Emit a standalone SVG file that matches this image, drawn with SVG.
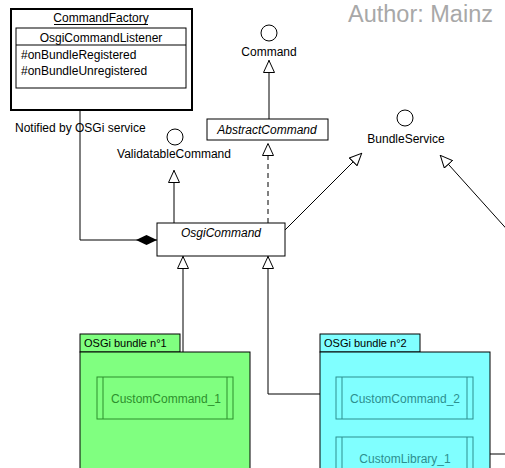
<svg xmlns="http://www.w3.org/2000/svg" width="505" height="468" viewBox="0 0 505 468">
<style>
text{font-family:"Liberation Sans",Arial,sans-serif;font-size:12px;fill:#000}
.c{text-anchor:middle}
.it{font-style:italic}
.box{fill:#fff;stroke:#000;stroke-width:1}
.ln{fill:none;stroke:#000;stroke-width:1}
.g1{fill:#80ff80;stroke:#000;stroke-width:1}
.g2{fill:#80ffff;stroke:#000;stroke-width:1}
.cg{fill:none;stroke:#2d8f2d;stroke-width:1}
.ct{fill:none;stroke:#2d8f8f;stroke-width:1}
</style>
<defs>
<marker id="tri" viewBox="0 0 13 12" refX="13" refY="6" markerWidth="13" markerHeight="12" markerUnits="userSpaceOnUse" orient="auto">
<path d="M0.5,0.5 L12.5,6 L0.5,11.5 Z" fill="#fff" stroke="#000" stroke-width="1"/>
</marker>
<marker id="dia" viewBox="0 0 21 10" refX="21" refY="5" markerWidth="21" markerHeight="10" markerUnits="userSpaceOnUse" orient="auto">
<path d="M0,5 L10.5,0 L21,5 L10.5,10 Z" fill="#000"/>
</marker>
</defs>
<rect width="505" height="468" fill="#fff"/>
<text x="348" y="22" style="font-size:23.5px;fill:#a8a8a8">Author: Mainz</text>
<text x="15" y="132">Notified by OSGi service</text>
<g id="connectors">
<polyline class="ln" points="80,111 80,240 157,240" marker-end="url(#dia)"/>
<line class="ln" x1="269" y1="119" x2="269" y2="60" marker-end="url(#tri)"/>
<line class="ln" x1="174" y1="223" x2="174" y2="170" marker-end="url(#tri)"/>
<line class="ln" x1="268" y1="223" x2="268" y2="143" stroke-dasharray="5,4" marker-end="url(#tri)"/>
<line class="ln" x1="285" y1="230" x2="362" y2="153" marker-end="url(#tri)"/>
<line class="ln" x1="512" y1="235" x2="440" y2="155" marker-end="url(#tri)"/>
<line class="ln" x1="183" y1="377" x2="183" y2="256" marker-end="url(#tri)"/>
<polyline class="ln" points="336,394 268,394 268,256" marker-end="url(#tri)"/>
<line class="ln" x1="473" y1="454" x2="505" y2="454"/>
</g>
<g id="CommandFactory">
<rect x="11" y="9" width="181" height="101" fill="#fff" stroke="#000" stroke-width="2"/>
<text class="c" x="101" y="22">CommandFactory</text>
<line class="ln" x1="54" y1="24.5" x2="148" y2="24.5"/>
<g id="OsgiCommandListener">
<rect class="box" x="16" y="28" width="170" height="60"/>
<text class="c" x="101" y="42">OsgiCommandListener</text>
<line class="ln" x1="16" y1="45" x2="186" y2="45"/>
<text x="21" y="59">#onBundleRegistered</text>
<text x="21" y="75">#onBundleUnregistered</text>
</g>
</g>
<g id="Command">
<circle cx="269" cy="33" r="8" class="box"/>
<text class="c" x="269" y="56">Command</text>
</g>
<g id="AbstractCommand">
<rect class="box" x="207" y="119" width="121" height="21"/>
<text class="c it" x="267" y="134">AbstractCommand</text>
</g>
<g id="ValidatableCommand">
<circle cx="175" cy="137" r="8" class="box"/>
<text class="c" x="174" y="158">ValidatableCommand</text>
</g>
<g id="BundleService">
<circle cx="405" cy="118" r="8" class="box"/>
<text class="c" x="406" y="143">BundleService</text>
</g>
<g id="OsgiCommand">
<rect class="box" x="157" y="223" width="128" height="33"/>
<text class="c it" x="221" y="237">OsgiCommand</text>
</g>
<g id="bundle1">
<rect class="g1" x="80" y="334" width="100" height="18"/>
<rect class="g1" x="80" y="352" width="170" height="120"/>
<text x="84" y="347" style="font-size:11px">OSGi bundle n°1</text>
<g id="CustomCommand_1">
<rect class="cg" x="97" y="377" width="136" height="42"/>
<line class="cg" x1="103" y1="377" x2="103" y2="419"/>
<line class="cg" x1="227" y1="377" x2="227" y2="419"/>
<text class="c" x="166" y="403" style="fill:#2d8f2d">CustomCommand_1</text>
</g>
</g>
<g id="bundle2">
<rect class="g2" x="320" y="334" width="100" height="18"/>
<rect class="g2" x="320" y="352" width="170" height="120"/>
<text x="324" y="347" style="font-size:11px">OSGi bundle n°2</text>
<g id="CustomCommand_2">
<rect class="ct" x="336" y="377" width="137" height="42"/>
<line class="ct" x1="342" y1="377" x2="342" y2="419"/>
<line class="ct" x1="467" y1="377" x2="467" y2="419"/>
<text class="c" x="405" y="403" style="fill:#2d8f8f">CustomCommand_2</text>
</g>
<g id="CustomLibrary_1">
<rect class="ct" x="336" y="437" width="137" height="42"/>
<line class="ct" x1="342" y1="437" x2="342" y2="479"/>
<line class="ct" x1="467" y1="437" x2="467" y2="479"/>
<text class="c" x="405" y="463" style="fill:#2d8f8f">CustomLibrary_1</text>
</g>
</g>
</svg>
